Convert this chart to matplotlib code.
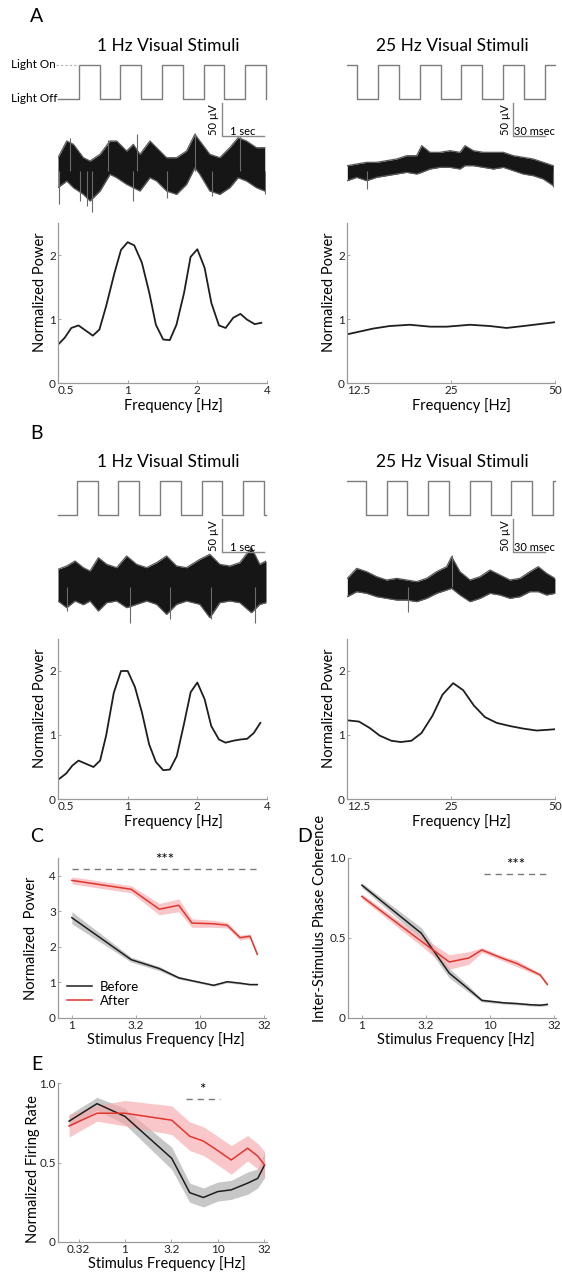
import numpy as np
import matplotlib
matplotlib.use("Agg")
import matplotlib.pyplot as plt
from matplotlib.ticker import NullLocator

plt.rcParams['font.family'] = ['Lato', 'DejaVu Sans']

# ======================= DATA =======================
# --- stimulus timing (light-on onsets) ---
stimA1_on = [0.5, 1.5, 2.5, 3.5, 4.5]          # s
stimB1_on = [0.45, 1.45, 2.45, 3.45, 4.45]     # s
stimA25_on = [-10, 30, 70, 110, 150, 190]      # ms
stimB25_on = [-2, 38, 78, 118, 158, 198]       # ms
dur_1hz, win_1hz = 0.5, 5.0
dur_25hz, win_25hz = 20, 200

# --- raw LFP traces: envelope (top / bottom, µV) ---
trA1_t = [0.0, 0.21, 0.37, 0.61, 0.77, 1.01, 1.25, 1.41, 1.65, 1.81, 1.97, 2.21, 2.37,
          2.61, 2.85, 3.09, 3.29, 3.41, 3.65, 3.89, 4.13, 4.33, 4.53, 4.77, 4.97]
trA1_top = [20, 45, 40, 20, 15, 25, 45, 45, 30, 40, 25, 45, 35,
            20, 20, 30, 55, 45, 25, 20, 35, 50, 45, 35, 35]
trA1_bot = [-25, -15, -25, -35, -45, -30, -5, -10, -20, -25, -30, -10, -15,
            -30, -35, -20, 5, -5, -30, -35, -25, -10, -15, -25, -30]
spkA1_t = [0.03, 0.53, 0.70, 0.81, 1.81, 2.61, 3.69, 4.97, 0.29, 1.21, 1.89, 3.29, 4.37]
spkA1_v = [-50, -45, -52, -62, -45, -40, -37, -35, 50, 47, 55, 57, 52]

trA25_t = [0.3, 9.3, 18.9, 28.5, 38.1, 47.7, 57.4, 67.0, 71.8, 79.8, 89.4, 99.0, 108.6,
           113.5, 121.5, 131.1, 140.7, 150.3, 159.9, 169.5, 179.1, 188.7, 198.3]
trA25_top = [8, 10.5, 13, 13, 15.5, 18, 23, 23, 38, 28, 28, 30.5, 28,
             38, 30.5, 28, 28, 28, 23, 20.5, 18, 13, 8]
trA25_bot = [-14.5, -9.5, -14.5, -9.5, -7, -4.5, -2, -4.5, -2, 3, 5.5, 5.5, 3,
             8, 8, 5.5, 3, 5.5, 0.5, -4.5, -7, -12, -22]
spkA25_t = [19.5, 198.3]
spkA25_v = [-27, -24]

trB1_t = [0.0, 0.21, 0.41, 0.61, 0.77, 0.97, 1.17, 1.41, 1.65, 1.89, 2.13, 2.37, 2.61,
          2.85, 3.09, 3.41, 3.65, 3.89, 4.13, 4.37, 4.65, 4.85, 5.0]
trB1_top = [26.5, 31.5, 39, 29, 24, 44, 34, 29, 46.5, 34, 29, 36.5, 46.5,
            31.5, 29, 41.5, 49, 34, 31.5, 36.5, 59, 34, 39]
trB1_bot = [-21, -31, -21, -26.5, -21, -36, -23.5, -21, -31, -26, -21, -26, -41,
            -26, -21, -26, -46, -23.5, -21, -23.5, -38.5, -26, -23.5]
spkB1_t = [0.21, 1.73, 2.69, 3.68, 4.74]
spkB1_v = [-36, -53.5, -48.5, -48.5, -53.5]

trB25_t = [0.3, 9.3, 18.9, 28.5, 38.1, 47.7, 57.4, 67.0, 76.6, 86.2, 95.8, 100.6, 108.6,
           118.3, 127.9, 137.5, 147.1, 156.7, 166.3, 175.9, 183.9, 191.9, 199.9]
trB25_top = [13, 28, 23, 15.5, 10.5, 13, 10.5, 8, 13, 23, 30.5, 45.5, 23,
             10.5, 15.5, 25.5, 18, 10.5, 13, 23, 30.5, 20.5, 13]
trB25_bot = [-14.5, -7, -9.5, -14.5, -17, -19.5, -19.5, -22, -17, -9.5, -4.5, -2, -12,
             -22, -17, -9.5, -12, -17, -14.5, -7, -7, -12, -9.5]
spkB25_t = [58.9, 100.6]
spkB25_v = [-37, 48]

# --- normalized power spectra ---
pwA1_f = [0.5, 0.534, 0.571, 0.613, 0.707, 0.755, 0.807, 0.877, 0.936, 1.0, 1.068, 1.152,
          1.24, 1.324, 1.424, 1.52, 1.625, 1.753, 1.87, 2.0, 2.15, 2.30, 2.48, 2.65,
          2.86, 3.07, 3.28, 3.54, 3.78]
pwA1_v = [0.60, 0.705, 0.86, 0.90, 0.74, 0.835, 1.20, 1.72, 2.08, 2.20, 2.15, 1.88,
          1.41, 0.91, 0.68, 0.67, 0.91, 1.41, 1.97, 2.09, 1.80, 1.25, 0.90, 0.86,
          1.02, 1.08, 0.99, 0.92, 0.94]
pwA25_f = [12.5, 14.87, 16.6, 19.0, 21.8, 24.3, 28.4, 32.4, 36.2, 40.5, 50]
pwA25_v = [0.76, 0.85, 0.89, 0.91, 0.88, 0.88, 0.91, 0.89, 0.86, 0.89, 0.95]
pwB1_f = [0.5, 0.543, 0.576, 0.613, 0.712, 0.760, 0.807, 0.871, 0.936, 1.0, 1.075, 1.153,
          1.239, 1.324, 1.424, 1.521, 1.630, 1.753, 1.872, 2.0, 2.150, 2.297, 2.479,
          2.648, 2.857, 3.071, 3.281, 3.505, 3.745]
pwB1_v = [0.30, 0.40, 0.52, 0.60, 0.50, 0.60, 0.99, 1.66, 2.0, 2.0, 1.75, 1.35, 0.85,
          0.58, 0.45, 0.46, 0.67, 1.18, 1.67, 1.82, 1.56, 1.14, 0.93, 0.88, 0.91,
          0.93, 0.94, 1.03, 1.19]
pwB25_f = [12.5, 13.54, 14.54, 15.55, 16.80, 17.89, 19.20, 20.53, 22.09, 23.62, 25.36,
           27.12, 29.12, 31.34, 33.87, 37.03, 40.47, 44.24, 47.29, 50]
pwB25_v = [1.23, 1.21, 1.11, 0.99, 0.91, 0.89, 0.91, 1.03, 1.30, 1.63, 1.81, 1.70,
           1.46, 1.28, 1.19, 1.14, 1.10, 1.07, 1.08, 1.09]

# --- panel C: normalized power vs stimulus frequency ---
C_f = [1.0, 2.9, 4.8, 6.8, 8.6, 12.7, 16.2, 20.4, 24.4, 27.8]
C_before = [2.82, 1.64, 1.39, 1.13, 1.05, 0.92, 1.02, 0.98, 0.94, 0.94]
C_before_err = [0.17, 0.07, 0.06, 0.04, 0.03, 0.03, 0.03, 0.03, 0.02, 0.02]
C_after = [3.87, 3.62, 3.06, 3.17, 2.67, 2.65, 2.61, 2.26, 2.30, 1.79]
C_after_err = [0.10, 0.10, 0.16, 0.18, 0.12, 0.10, 0.08, 0.07, 0.06, 0.05]
C_sig = [1.0, 27.8, 4.2]

# --- panel D: inter-stimulus phase coherence ---
D_f = [1.0, 2.9, 4.8, 6.8, 8.6, 12.7, 16.2, 20.4, 24.4, 27.8]
D_before = [0.83, 0.53, 0.28, 0.18, 0.11, 0.095, 0.09, 0.083, 0.08, 0.085]
D_before_err = [0.015, 0.035, 0.03, 0.02, 0.01, 0.008, 0.008, 0.008, 0.008, 0.008]
D_after = [0.76, 0.48, 0.35, 0.375, 0.425, 0.37, 0.34, 0.30, 0.27, 0.21]
D_after_err = [0.015, 0.03, 0.045, 0.04, 0.015, 0.015, 0.02, 0.015, 0.01, 0.01]
D_sig = [9.0, 27.8, 0.9]

# --- panel E: normalized firing rate ---
E_f = [0.25, 0.5, 1.0, 3.2, 5.0, 7.0, 10.0, 14.0, 21.0, 27.0, 32.0]
E_before = [0.76, 0.87, 0.79, 0.526, 0.31, 0.28, 0.317, 0.328, 0.37, 0.40, 0.484]
E_before_err = [0.04, 0.04, 0.05, 0.07, 0.06, 0.06, 0.06, 0.06, 0.07, 0.06, 0.08]
E_after = [0.73, 0.81, 0.81, 0.766, 0.665, 0.635, 0.575, 0.516, 0.59, 0.54, 0.484]
E_after_err = [0.07, 0.05, 0.08, 0.09, 0.09, 0.09, 0.09, 0.09, 0.08, 0.08, 0.085]
E_sig = [4.5, 10.5, 0.9]

# ======================= FIGURE =======================
W, H = 562, 1274
fig = plt.figure(figsize=(W / 100, H / 100), dpi=100)

def axpx(x0, y0, x1, y1):
    ax = fig.add_axes([x0 / W, 1 - y1 / H, (x1 - x0) / W, (y1 - y0) / H])
    ax.patch.set_alpha(0)
    return ax

SPINE = '#9a9a9a'
RED = '#e3352d'
PINK = '#f7a9ac'
BLK = '#1e1e1e'
GREYF = '#a3a3a3'
STIM_HI, STIM_LO = 159, 108
BAR_LO, BAR_HI = 52, 102

def square(t0, t1, starts, dur, lo, hi):
    edges = []
    for s in starts:
        edges.append((s, hi)); edges.append((s + dur, lo))
    edges.sort()
    lvl = lo
    for s in starts:
        if s <= t0 < s + dur:
            lvl = hi
    xs, ys = [t0], [lvl]
    for e, new in edges:
        if t0 < e <= t1:
            xs += [e, e]; ys += [lvl, new]; lvl = new
    xs.append(t1); ys.append(lvl)
    return xs, ys

def block(x0, x1, yoff, tmax, starts, dur, tt, top, bot, st, sv, bar_t, bar_len,
          tlabel, is_ms, light=False):
    ax = axpx(x0, 55 + yoff, x1, 225 + yoff)
    ax.set_xlim(0, tmax); ax.set_ylim(-81, 174)
    ax.axis('off')
    xs, ys = square(0, tmax, starts, dur, STIM_LO, STIM_HI)
    ax.plot(xs, ys, color='#7d7d7d', lw=1.0, clip_on=False)
    ax.fill_between(tt, bot, top, color='#161616', lw=0)
    ax.plot(tt, top, color='#5a5a5a', lw=0.9)
    ax.plot(tt, bot, color='#5a5a5a', lw=0.9)
    ax.vlines(st, 0, sv, color='#6a6a6a', lw=0.8)
    ax.plot([bar_t, bar_t, bar_t + bar_len], [BAR_HI, BAR_LO, BAR_LO], color='#8a8a8a', lw=1.0)
    ax.annotate('50 µV', xy=(bar_t, (BAR_LO + BAR_HI) / 2), xytext=(-2, 0),
                textcoords='offset points', rotation=90, ha='right', va='center', fontsize=8)
    if is_ms:
        ax.text(bar_t + tmax * 0.005, BAR_LO - 1, tlabel, ha='left', va='bottom', fontsize=8)
    else:
        ax.text(bar_t + bar_len / 2, BAR_LO - 1, tlabel, ha='center', va='bottom', fontsize=8)
    if light:
        ax.text(-0.06, STIM_HI, 'Light On', ha='right', va='center', fontsize=8.5, clip_on=False)
        ax.text(-0.005, STIM_LO, 'Light Off', ha='right', va='center', fontsize=8.5, clip_on=False)
        ax.plot([-0.05, starts[0]], [STIM_HI, STIM_HI], color='#b0b0b0', lw=0.8,
                ls=(0, (2, 2)), clip_on=False)
    return ax

def style(ax, labelsize=8.5):
    for s in ['top', 'right']:
        ax.spines[s].set_visible(False)
    for s in ['left', 'bottom']:
        ax.spines[s].set_color(SPINE); ax.spines[s].set_linewidth(0.9)
    ax.tick_params(length=2, width=0.6, color=SPINE, labelsize=labelsize, labelcolor='#222',
                   pad=1.5, direction='in')

def power_ax(x0, y0, x1, y1, f, v, xlim, ticks, tlabels):
    ax = axpx(x0, y0, x1, y1)
    ax.plot(f, v, color=BLK, lw=1.3)
    ax.set_xscale('log')
    ax.set_xlim(*xlim); ax.set_ylim(0, 2.5)
    ax.set_xticks(ticks); ax.set_xticklabels(tlabels)
    ax.xaxis.set_minor_locator(NullLocator())
    ax.set_yticks([0, 1, 2]); ax.set_yticklabels(['0', '1', '2'])
    style(ax)
    ax.get_xticklabels()[0].set_ha('left')
    ax.set_ylabel('Normalized Power', fontsize=10.5, labelpad=0)
    ax.yaxis.set_label_coords(-11 / (x1 - x0), 0.57)
    ax.set_xlabel('Frequency [Hz]', fontsize=10.5)
    ax.xaxis.set_label_coords(0.55, -15 / (y1 - y0))
    ax.xaxis.label.set_va('top')
    return ax

def letter(x, y, s):
    fig.text(x / W, 1 - y / H, s, ha='center', va='center', fontsize=14)

# ---------------- Panel A & B ----------------
for yoff, lab, s1, s25, trs, light in [
        (0, 'A', stimA1_on, stimA25_on,
         (trA1_t, trA1_top, trA1_bot, spkA1_t, spkA1_v,
          trA25_t, trA25_top, trA25_bot, spkA25_t, spkA25_v), True),
        (416, 'B', stimB1_on, stimB25_on,
         (trB1_t, trB1_top, trB1_bot, spkB1_t, spkB1_v,
          trB25_t, trB25_top, trB25_bot, spkB25_t, spkB25_v), False)]:
    letter(37, 17 + yoff, lab)
    fig.text(168 / W, 1 - (46 + yoff) / H, '1 Hz Visual Stimuli', ha='center', va='center', fontsize=12.5)
    fig.text(452 / W, 1 - (46 + yoff) / H, '25 Hz Visual Stimuli', ha='center', va='center', fontsize=12.5)
    block(58, 266, yoff, win_1hz, s1, dur_1hz, trs[0], trs[1], trs[2], trs[3], trs[4],
          3.94, 1.0, '1 sec', False, light)
    block(347, 555, yoff, win_25hz, s25, dur_25hz, trs[5], trs[6], trs[7], trs[8], trs[9],
          160, 30, '30 msec', True)

power_ax(58, 223, 267, 383, pwA1_f, pwA1_v, (0.5, 4), [0.5, 1, 2, 4], ['0.5', '1', '2', '4'])
power_ax(347, 223, 555, 383, pwA25_f, pwA25_v, (12.5, 50), [12.5, 25, 50], ['12.5', '25', '50'])
power_ax(58, 639, 267, 799, pwB1_f, pwB1_v, (0.5, 4), [0.5, 1, 2, 4], ['0.5', '1', '2', '4'])
power_ax(347, 639, 555, 799, pwB25_f, pwB25_v, (12.5, 50), [12.5, 25, 50], ['12.5', '25', '50'])

# ---------------- Panels C, D, E ----------------
def summary_ax(x0, y0, x1, y1, f, b, be, a, ae, sig, stars, ylim, yticks, ylabels,
               xlim, xticks, xlabels, ylabel, ylab_off, ylab_y):
    ax = axpx(x0, y0, x1, y1)
    f = np.array(f)
    b, be, a, ae = map(np.array, (b, be, a, ae))
    ax.fill_between(f, b - be, b + be, color=GREYF, alpha=0.6, lw=0)
    ax.fill_between(f, a - ae, a + ae, color=PINK, alpha=0.65, lw=0)
    lb, = ax.plot(f, b, color=BLK, lw=1.1, label='Before')
    la, = ax.plot(f, a, color=RED, lw=1.1, label='After')
    ax.plot([sig[0], sig[1]], [sig[2], sig[2]], color='#7a7a7a', lw=1.0, ls=(0, (4.5, 3.5)))
    ax.text(np.sqrt(sig[0] * sig[1]), sig[2] + (ylim[1] - ylim[0]) * 0.01, stars,
            ha='center', va='bottom', fontsize=11)
    ax.set_xscale('log')
    ax.set_xlim(*xlim); ax.set_ylim(*ylim)
    ax.set_xticks(xticks); ax.set_xticklabels(xlabels)
    ax.xaxis.set_minor_locator(NullLocator())
    ax.set_yticks(yticks); ax.set_yticklabels(ylabels)
    style(ax, 8.5)
    ax.set_ylabel(ylabel, fontsize=10.5)
    ax.yaxis.set_label_coords(-ylab_off / (x1 - x0), ylab_y)
    ax.set_xlabel('Stimulus Frequency [Hz]', fontsize=10.5)
    ax.xaxis.set_label_coords(0.52, -14 / (y1 - y0))
    ax.xaxis.label.set_va('top')
    return ax, lb, la

dec = [1, 10 ** 0.5, 10, 10 ** 1.5]
decl = ['1', '3.2', '10', '32']
letter(37, 837, 'C')
axC, lb, la = summary_ax(58, 858, 266, 1018, C_f, C_before, C_before_err, C_after, C_after_err,
                         C_sig, '***', (0, 4.5), [0, 1, 2, 3, 4], ['0', '1', '2', '3', '4'],
                         (0.78, 32.5), dec, decl, 'Normalized  Power', 20, 0.5)
axC.legend(handles=[lb, la], loc='lower left', bbox_to_anchor=(0.03, 0.055), frameon=False,
           fontsize=9.5, handlelength=1.9, handletextpad=0.6, labelspacing=0.15,
           borderaxespad=0.0, borderpad=0.2)

letter(305, 837, 'D')
summary_ax(348, 858, 556, 1018, D_f, D_before, D_before_err, D_after, D_after_err,
           D_sig, '***', (0, 1.0), [0, 0.5, 1.0], ['0', '0.5', '1.0'],
           (0.78, 32.5), dec, decl, 'Inter-Stimulus Phase Coherence', 21, 0.62)

letter(37, 1065, 'E')
summary_ax(58, 1083, 267, 1242, E_f, E_before, E_before_err, E_after, E_after_err,
           E_sig, '*', (0, 1.0), [0, 0.5, 1.0], ['0', '0.5', '1.0'],
           (0.19, 34), [10 ** -0.5] + dec, ['0.32'] + decl, 'Normalized Firing Rate', 18, 0.46)

fig.savefig('out.png', dpi=100)
